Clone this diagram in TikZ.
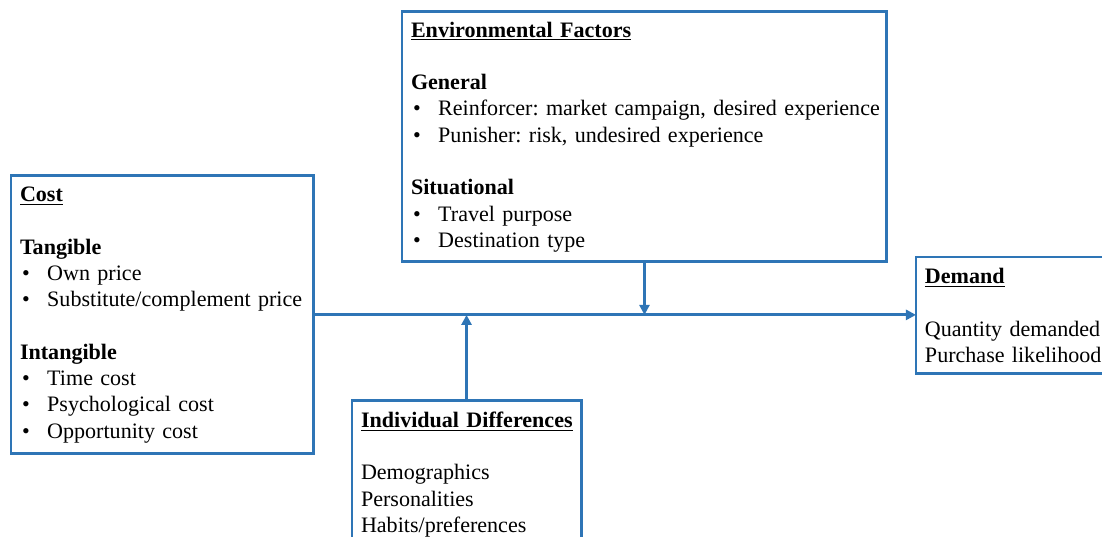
\documentclass[tikz,border=0pt]{standalone}
\usepackage{fontspec}
\setmainfont{Liberation Serif}
\usetikzlibrary{arrows.meta,positioning}
\definecolor{boxblue}{RGB}{46,117,182}
\newcommand{\bitem}[1]{\mbox{\makebox[14.8pt][l]{\hspace{1.2pt}\textbullet}#1}}
\newcommand{\head}[1]{\underline{\textbf{#1}}}

\begin{document}
\begin{tikzpicture}[
      x=1pt, y=-1pt,
      >={Triangle[length=5.5pt,width=5.5pt]},
      font=\fontsize{12}{14.3}\selectfont\frenchspacing,
      box/.style={draw=boxblue, line width=1.6pt, align=left, anchor=north west,
        inner xsep=4.9pt, inner ysep=0pt, outer sep=0pt},
      flow/.style={->, draw=boxblue, line width=1.6pt}
    ]
    \useasboundingbox (0,0) rectangle (599.5,292.1);
    \clip (0,0) rectangle (599.5,292.1);

    \node[box, text width=254pt, minimum height=136pt] (env) at (218.7,6.5) {%
      \head{Environmental Factors}\\[14.3pt]
      \textbf{General}\\
      \bitem{Reinforcer: market campaign, desired experience}\\
      \bitem{Punisher: risk, undesired experience}\\[14.3pt]
      \textbf{Situational}\\
      \bitem{Travel purpose}\\
      \bitem{Destination type}};
    \node[box, text width=154.5pt, minimum height=151.2pt] (cost) at (6.0,95.7) {%
      \head{Cost}\\[14.3pt]
      \textbf{Tangible}\\
      \bitem{Own price}\\
      \bitem{Substitute/complement price}\\[14.3pt]
      \textbf{Intangible}\\
      \bitem{Time cost}\\
      \bitem{Psychological cost}\\
      \bitem{Opportunity cost}};
    \node[box, text width=105.2pt, minimum height=63.6pt] (dem) at (498.3,139.8) {%
      \head{Demand}\\[14.3pt]
      Quantity demanded\\
      Purchase likelihood};
    \node[box, text width=114.8pt, minimum height=80pt] (indiv) at (191.5,218.1) {%
      \head{Individual Differences}\\[14.3pt]
      Demographics\\
      Personalities\\
      Habits/preferences};

    \draw[flow] (cost.east) -- (cost.east -| dem.west);
    \draw[flow] (env.south) -- (env.south |- cost.east);
    \draw[flow] (indiv.north) -- (indiv.north |- cost.east);
  \end{tikzpicture}
\end{document}
